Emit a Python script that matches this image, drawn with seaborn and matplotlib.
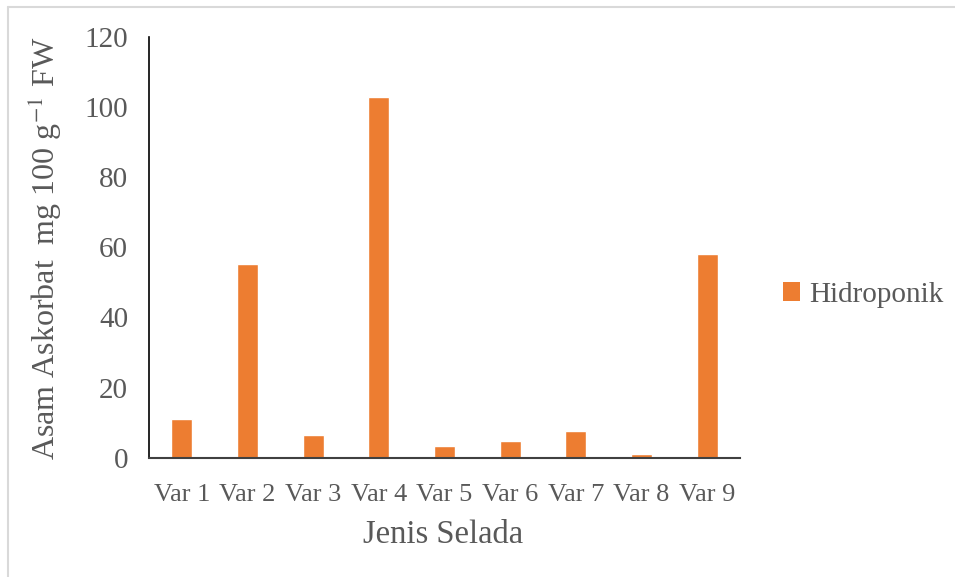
import matplotlib
matplotlib.use("Agg")
import matplotlib.pyplot as plt
from matplotlib.patches import Patch
from matplotlib.lines import Line2D
import seaborn as sns
import pandas as pd

categories = ["Var 1", "Var 2", "Var 3", "Var 4", "Var 5", "Var 6", "Var 7", "Var 8", "Var 9"]
hidroponik = [11.0, 55.2, 6.6, 102.9, 3.4, 4.8, 7.5, 1.1, 58.0]
series_name = "Hidroponik"
y_ticks = [0, 20, 40, 60, 80, 100, 120]

sns.set_theme(style="white")
plt.rcParams['font.family'] = ['Liberation Serif', 'DejaVu Serif']
plt.rcParams['mathtext.fontset'] = 'stix'

text_color = "#595959"
bar_color = "#ED7D31"

df = pd.DataFrame({"Jenis": categories, "Nilai": hidroponik})

fig = plt.figure(figsize=(9.55, 5.77), dpi=100)
ax = fig.add_axes([149/955, 1 - 457.7/577, 591/955, (457.7 - 37)/577])

sns.barplot(data=df, x="Jenis", y="Nilai", color=bar_color, saturation=1,
            width=0.32, ax=ax, order=categories)

ax.set_ylim(0, 120)
ax.set_xlim(-0.5, len(categories) - 0.5)
ax.set_yticks(y_ticks)
ax.set_yticklabels([str(t) for t in y_ticks])
ax.tick_params(axis='x', length=0, labelsize=19, colors=text_color, pad=19)
ax.tick_params(axis='y', length=0, labelsize=21, colors=text_color, pad=15)
ax.set_xlabel("")
ax.set_ylabel("")

for s in ["top", "right"]:
    ax.spines[s].set_visible(False)
ax.spines["left"].set_color("black")
ax.spines["left"].set_linewidth(1.2)
ax.spines["bottom"].set_color("#404040")
ax.spines["bottom"].set_linewidth(1.5)

fig.text(443/955, 1 - 535/577, "Jenis Selada", ha="center", va="center",
         fontsize=23.5, color=text_color)
fig.text(45/955, 1 - 248/577, r"Asam Askorbat  mg 100 g$^{-1}$ FW", ha="center", va="center",
         rotation=90, fontsize=23, color=text_color)

handle = Patch(facecolor=bar_color, edgecolor="none")
leg = fig.legend([handle], [series_name], loc="center left",
                 bbox_to_anchor=(771/955, 1 - 295/577), frameon=False,
                 fontsize=21, handlelength=0.6, handleheight=0.6,
                 handletextpad=0.3, borderaxespad=0)
for t in leg.get_texts():
    t.set_color(text_color)

# chart frame (light gray border)
fig.add_artist(Line2D([8/955, 8/955], [0, 1 - 7/577], transform=fig.transFigure,
                      color="#d9d9d9", linewidth=1.5))
fig.add_artist(Line2D([8/955, 1], [1 - 7/577, 1 - 7/577], transform=fig.transFigure,
                      color="#d9d9d9", linewidth=1.5))

fig.savefig("out.png", dpi=100, facecolor="white")
